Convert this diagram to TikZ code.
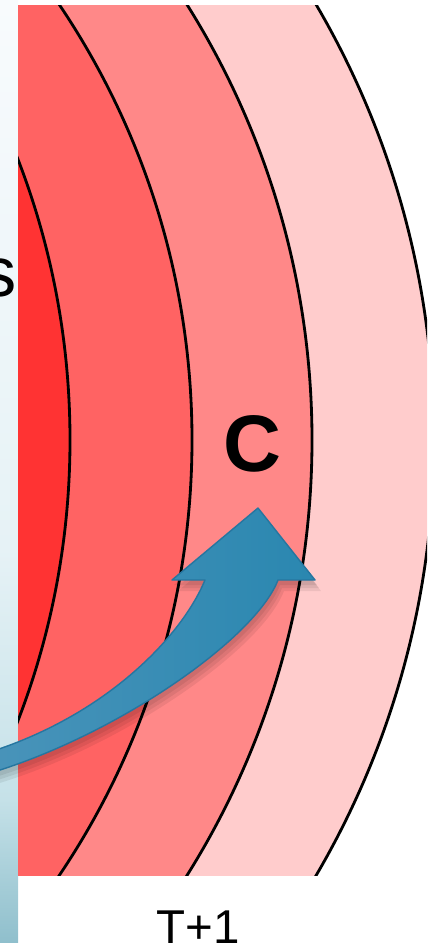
\documentclass[tikz,border=0pt]{standalone}
\usepackage{fontspec}
\setmainfont{Liberation Sans}
\definecolor{rA}{RGB}{255,51,51}
\definecolor{rB}{RGB}{255,99,99}
\definecolor{rC}{RGB}{255,136,136}
\definecolor{rD}{RGB}{255,204,204}
\definecolor{stA}{HTML}{F8FBFD}
\definecolor{stB}{HTML}{E6F2F6}
\definecolor{stC}{HTML}{C5E1E8}
\definecolor{stD}{HTML}{8FBFCC}
\definecolor{arrL}{HTML}{4A94BA}
\definecolor{arrR}{HTML}{2A87B0}
\definecolor{arrE}{HTML}{2676A0}
\tikzset{
  contour/.style={draw=black, line width=0.8pt},
  arrowbody/.style={left color=arrL, right color=arrR, draw=arrE, line width=0.4pt, line join=round},
  arrowshadow/.style={fill=black, opacity=0.07},
}
\newcommand{\arrowshape}{(205,580) -- (172,580) -- (258,508) -- (315,580) -- (278,580) .. controls (255,640) and (110,740) .. (-20,776) -- (-20,755) .. controls (100,720) and (180,640) .. (205,580) -- cycle}
\begin{document}
\begin{tikzpicture}[x=0.01cm,y=-0.01cm]
\useasboundingbox (0,0) rectangle (427,943);
\clip (0,0) rectangle (427,943);
% left strip
\shade[top color=stA, bottom color=stB] (0,0) rectangle (18,550);
\shade[top color=stB, bottom color=stC] (0,549) rectangle (18,800);
\shade[top color=stC, bottom color=stD] (0,799) rectangle (18,943);
% contour field
\begin{scope}
  \clip (18,6) rectangle (427,875);
  \fill[white] (18,6) rectangle (427,875);
  \fill[rD] (-428,440) circle[radius=862];
  \fill[rC] (-508,440) circle[radius=820];
  \fill[rB] (-588,440) circle[radius=780];
  \fill[rA] (-710,440) circle[radius=780];
  \draw[contour] (-428,440) circle[radius=862];
  \draw[contour] (-508,440) circle[radius=820];
  \draw[contour] (-588,440) circle[radius=780];
  \draw[contour] (-710,440) circle[radius=780];
\end{scope}
% labels
\node[font=\fontsize{20}{24}\selectfont, anchor=base east, inner sep=0pt] (s) at (17,297) {s};
\node[font=\fontsize{22.8}{27}\selectfont\bfseries, anchor=center, inner sep=0pt] (c) at (252,444) {C};
\node[font=\fontsize{13.5}{16}\selectfont, anchor=base, inner sep=0pt] (t) at (198,943) {T+1};
% arrow shadow
\begin{scope}[shift={(2,5)}] \fill[arrowshadow] \arrowshape; \end{scope}
\begin{scope}[shift={(4,8)}] \fill[arrowshadow] \arrowshape; \end{scope}
\begin{scope}[shift={(6,11)}] \fill[arrowshadow] \arrowshape; \end{scope}
% arrow
\path[arrowbody] \arrowshape;
\end{tikzpicture}
\end{document}
